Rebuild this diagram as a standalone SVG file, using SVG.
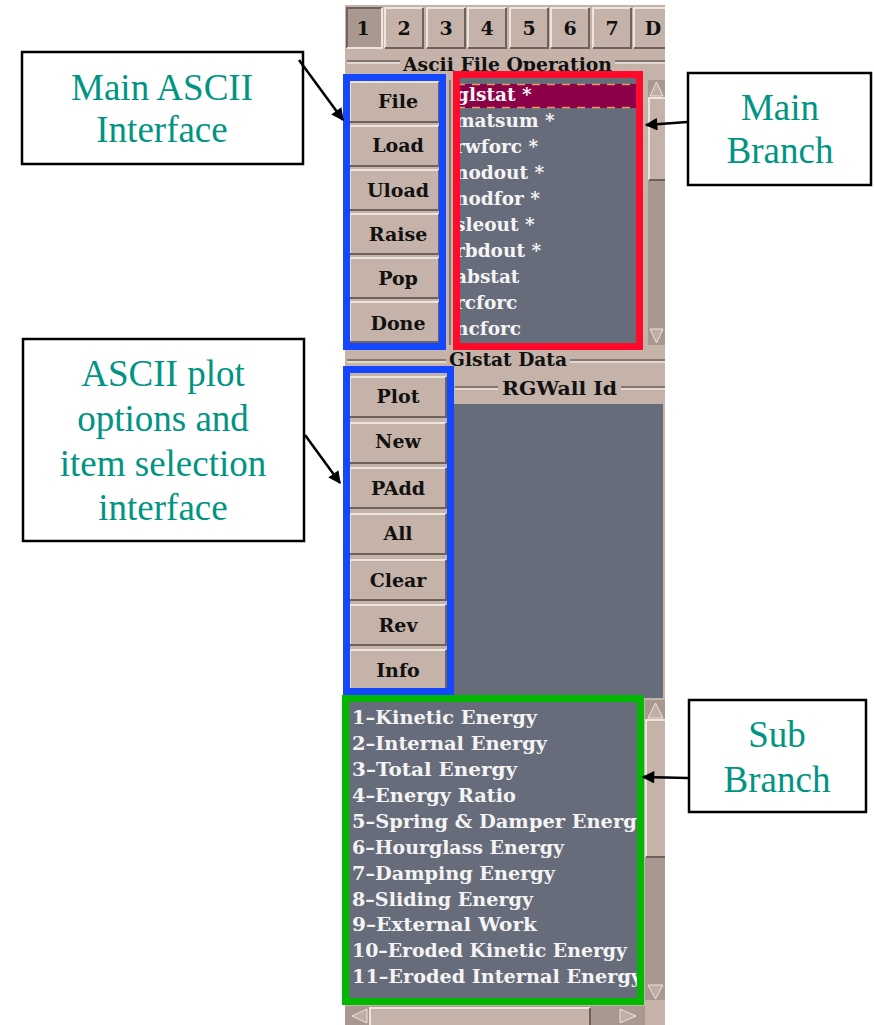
<svg xmlns="http://www.w3.org/2000/svg" width="874" height="1025" viewBox="0 0 874 1025">
<style>
.note{fill:#fff;stroke:#000;stroke-width:2.5}
.lbl{font-family:"Liberation Serif","Times New Roman",serif;font-size:37px;fill:#009483;text-anchor:middle}
.btn{fill:#c5b2a8}
.hi{stroke:#ece4de;stroke-width:2;fill:none}
.lo{stroke:#6f625c;stroke-width:2;fill:none}
.bt{font-family:"DejaVu Serif","Liberation Serif",serif;font-weight:bold;font-size:19px;fill:#111;text-anchor:middle}
.gt{font-family:"DejaVu Serif","Liberation Serif",serif;font-weight:bold;font-size:18px;fill:#111}
.lt{font-family:"DejaVu Serif","Liberation Serif",serif;font-weight:bold;font-size:18.5px;fill:#f4f4f4}
.lb{font-family:"DejaVu Serif","Liberation Serif",serif;font-weight:bold;font-size:18px;fill:#f4f4f4}
.dark{fill:#676c7b}
.trough{fill:#a9988f}
.arr{fill:#bfaea4;stroke:#ece4de;stroke-width:1}
.grv1{stroke:#6f625c;stroke-width:1.5}
.grv2{stroke:#ece4de;stroke-width:1.5}
.blue{fill:none;stroke:#1447ff;stroke-width:7}
.red{fill:none;stroke:#ff0a2a;stroke-width:7}
.green{fill:none;stroke:#00b800;stroke-width:7}
.conn{stroke:#000;stroke-width:2.5;fill:none;marker-end:url(#ah)}
</style>
<defs>
<marker id="ah" viewBox="0 0 10 10" refX="9" refY="5" markerWidth="6" markerHeight="5" orient="auto" markerUnits="strokeWidth">
<path d="M0,0 L10,5 L0,10 z" fill="#000"/>
</marker>
<clipPath id="clipTop"><rect x="459" y="78" width="177" height="265"/></clipPath>
<clipPath id="clipBot"><rect x="349" y="702" width="288" height="296"/></clipPath>
</defs>
<rect width="874" height="1025" fill="#fff"/>

<g id="panel">
<rect x="345" y="5" width="320" height="1020" fill="#c5b2a8"/>
<g id="tabs">
<rect x="347" y="8" width="35" height="40" fill="#a8988f"/>
<path d="M347,48 V8 H382" class="lo"/><path d="M382,8 V48 H347" class="hi"/>
<text x="363" y="35" class="bt">1</text>
<rect x="385" y="8" width="38" height="40" class="btn"/><path d="M385,48 V8 H423" class="hi"/><path d="M423,8 V48 H385" class="lo"/>
<text x="404" y="35" class="bt">2</text>
<rect x="427" y="8" width="38" height="40" class="btn"/><path d="M427,48 V8 H465" class="hi"/><path d="M465,8 V48 H427" class="lo"/>
<text x="446" y="35" class="bt">3</text>
<rect x="468" y="8" width="38" height="40" class="btn"/><path d="M468,48 V8 H506" class="hi"/><path d="M506,8 V48 H468" class="lo"/>
<text x="487" y="35" class="bt">4</text>
<rect x="510" y="8" width="38" height="40" class="btn"/><path d="M510,48 V8 H548" class="hi"/><path d="M548,8 V48 H510" class="lo"/>
<text x="529" y="35" class="bt">5</text>
<rect x="551" y="8" width="38" height="40" class="btn"/><path d="M551,48 V8 H589" class="hi"/><path d="M589,8 V48 H551" class="lo"/>
<text x="570" y="35" class="bt">6</text>
<rect x="593" y="8" width="38" height="40" class="btn"/><path d="M593,48 V8 H631" class="hi"/><path d="M631,8 V48 H593" class="lo"/>
<text x="612" y="35" class="bt">7</text>
<rect x="634" y="8" width="31" height="40" class="btn"/><path d="M634,48 V8 H665" class="hi"/><path d="M634,48 H665" class="lo"/>
<text x="653" y="35" class="bt">D</text>
</g>
<line x1="347" y1="61" x2="400" y2="61" class="grv1"/><line x1="347" y1="63" x2="400" y2="63" class="grv2"/>
<line x1="615" y1="61" x2="665" y2="61" class="grv1"/><line x1="615" y1="63" x2="665" y2="63" class="grv2"/>
<text x="403" y="71" class="gt" textLength="209" lengthAdjust="spacingAndGlyphs">Ascii File Operation</text>

<g id="mainButtons">
<rect x="350" y="82" width="89" height="40" class="btn"/><path d="M350,122 V82 H439" class="hi"/><path d="M439,82 V122 H350" class="lo"/>
<text x="398" y="108" class="bt">File</text>
<rect x="350" y="126" width="89" height="40" class="btn"/><path d="M350,166 V126 H439" class="hi"/><path d="M439,126 V166 H350" class="lo"/>
<text x="398" y="152" class="bt">Load</text>
<rect x="350" y="170" width="89" height="40" class="btn"/><path d="M350,210 V170 H439" class="hi"/><path d="M439,170 V210 H350" class="lo"/>
<text x="398" y="197" class="bt">Uload</text>
<rect x="350" y="214" width="89" height="40" class="btn"/><path d="M350,254 V214 H439" class="hi"/><path d="M439,214 V254 H350" class="lo"/>
<text x="398" y="241" class="bt">Raise</text>
<rect x="350" y="258" width="89" height="40" class="btn"/><path d="M350,298 V258 H439" class="hi"/><path d="M439,258 V298 H350" class="lo"/>
<text x="398" y="285" class="bt">Pop</text>
<rect x="350" y="302" width="89" height="40" class="btn"/><path d="M350,342 V302 H439" class="hi"/><path d="M439,302 V342 H350" class="lo"/>
<text x="398" y="330" class="bt">Done</text>
</g>
<line x1="450" y1="80" x2="450" y2="345" class="grv1"/>

<g id="mainList">
<rect x="453" y="74" width="190" height="274" class="dark"/>
<rect x="457" y="84" width="179" height="24" fill="#8b0048"/>
<line x1="457" y1="84.5" x2="636" y2="84.5" stroke="#e29a5a" stroke-width="1.5" stroke-dasharray="8,7"/>
<line x1="457" y1="107.5" x2="636" y2="107.5" stroke="#e29a5a" stroke-width="1.5" stroke-dasharray="8,7"/>
<g clip-path="url(#clipTop)">
<text x="456" y="101" class="lt">glstat *</text>
<text x="455" y="127" class="lt">matsum *</text>
<text x="455" y="153" class="lt">rwforc *</text>
<text x="455" y="179" class="lt">nodout *</text>
<text x="455" y="205" class="lt">nodfor *</text>
<text x="455" y="231" class="lt">sleout *</text>
<text x="455" y="257" class="lt">rbdout *</text>
<text x="455" y="283" class="lt">abstat</text>
<text x="455" y="309" class="lt">rcforc</text>
<text x="455" y="335" class="lt">ncforc</text>
</g>
</g>
<rect x="648" y="80" width="17" height="265" class="trough"/>
<rect x="649" y="98" width="16" height="82" class="btn"/><path d="M649,180 V98 H665" class="hi"/><path d="M649,180 H665" class="lo"/>
<path d="M650,96 L656.5,82 L663,96 Z" class="arr"/>
<path d="M650,329 L656.5,343 L663,329 Z" class="arr"/>

<line x1="347" y1="360" x2="446" y2="360" class="grv1"/><line x1="347" y1="362" x2="446" y2="362" class="grv2"/>
<line x1="570" y1="360" x2="665" y2="360" class="grv1"/><line x1="570" y1="362" x2="665" y2="362" class="grv2"/>
<text x="449" y="366" class="gt" textLength="118" lengthAdjust="spacingAndGlyphs">Glstat Data</text>
<line x1="455" y1="387" x2="498" y2="387" class="grv1"/><line x1="455" y1="389" x2="498" y2="389" class="grv2"/>
<line x1="621" y1="387" x2="665" y2="387" class="grv1"/><line x1="621" y1="389" x2="665" y2="389" class="grv2"/>
<text x="502" y="395" class="gt" textLength="115" lengthAdjust="spacingAndGlyphs">RGWall Id</text>
<rect x="454" y="404" width="209" height="294" class="dark"/>

<g id="plotButtons">
<rect x="350" y="377" width="96" height="40" class="btn"/><path d="M350,417 V377 H446" class="hi"/><path d="M446,377 V417 H350" class="lo"/>
<text x="398" y="403" class="bt">Plot</text>
<rect x="350" y="423" width="96" height="40" class="btn"/><path d="M350,463 V423 H446" class="hi"/><path d="M446,423 V463 H350" class="lo"/>
<text x="398" y="448" class="bt">New</text>
<rect x="350" y="468" width="96" height="40" class="btn"/><path d="M350,508 V468 H446" class="hi"/><path d="M446,468 V508 H350" class="lo"/>
<text x="398" y="495" class="bt">PAdd</text>
<rect x="350" y="514" width="96" height="40" class="btn"/><path d="M350,554 V514 H446" class="hi"/><path d="M446,514 V554 H350" class="lo"/>
<text x="398" y="540" class="bt">All</text>
<rect x="350" y="560" width="96" height="40" class="btn"/><path d="M350,600 V560 H446" class="hi"/><path d="M446,560 V600 H350" class="lo"/>
<text x="398" y="587" class="bt">Clear</text>
<rect x="350" y="605" width="96" height="40" class="btn"/><path d="M350,645 V605 H446" class="hi"/><path d="M446,605 V645 H350" class="lo"/>
<text x="398" y="632" class="bt">Rev</text>
<rect x="350" y="650" width="96" height="40" class="btn"/><path d="M350,690 V650 H446" class="hi"/><path d="M446,650 V690 H350" class="lo"/>
<text x="398" y="677" class="bt">Info</text>
</g>

<g id="subList">
<rect x="345" y="698" width="296" height="304" class="dark"/>
<g clip-path="url(#clipBot)">
<text x="352" y="724" class="lb" textLength="185" lengthAdjust="spacingAndGlyphs">1–Kinetic Energy</text>
<text x="352" y="750" class="lb" textLength="195" lengthAdjust="spacingAndGlyphs">2–Internal Energy</text>
<text x="352" y="776" class="lb" textLength="165" lengthAdjust="spacingAndGlyphs">3–Total Energy</text>
<text x="352" y="802" class="lb" textLength="164" lengthAdjust="spacingAndGlyphs">4–Energy Ratio</text>
<text x="352" y="828" class="lb" textLength="296" lengthAdjust="spacingAndGlyphs">5–Spring &amp; Damper Energy</text>
<text x="352" y="854" class="lb" textLength="212" lengthAdjust="spacingAndGlyphs">6–Hourglass Energy</text>
<text x="352" y="880" class="lb" textLength="203" lengthAdjust="spacingAndGlyphs">7–Damping Energy</text>
<text x="352" y="906" class="lb" textLength="181" lengthAdjust="spacingAndGlyphs">8–Sliding Energy</text>
<text x="352" y="931" class="lb" textLength="185" lengthAdjust="spacingAndGlyphs">9–External Work</text>
<text x="352" y="957" class="lb" textLength="275" lengthAdjust="spacingAndGlyphs">10–Eroded Kinetic Energy</text>
<text x="352" y="983" class="lb" textLength="290" lengthAdjust="spacingAndGlyphs">11–Eroded Internal Energy</text>
</g>
</g>
<rect x="645" y="700" width="20" height="300" class="trough"/>
<rect x="646" y="720" width="19" height="137" class="btn"/><path d="M646,857 V720 H665" class="hi"/><path d="M646,857 H665" class="lo"/>
<path d="M648,718 L655.5,703 L663,718 Z" class="arr"/>
<path d="M648,985 L655.5,999 L663,985 Z" class="arr"/>
<rect x="345" y="1006" width="300" height="19" class="trough"/>
<rect x="370" y="1008" width="220" height="17" class="btn"/><path d="M370,1025 V1008 H590" class="hi"/><path d="M590,1008 V1025" class="lo"/>
<path d="M367,1009 L352,1016 L367,1023 Z" class="arr"/>
<path d="M620,1009 L636,1016 L620,1023 Z" class="arr"/>
</g>

<g id="highlights">
<rect x="346.5" y="77.5" width="96" height="269" class="blue"/>
<rect x="456.5" y="74.5" width="183" height="272" class="red"/>
<rect x="346.5" y="369.5" width="104" height="322" class="blue"/>
<rect x="345.5" y="698.5" width="295" height="303" class="green"/>
</g>

<g id="noteMainAscii">
<rect x="22" y="52" width="281" height="112" class="note"/>
<text x="162" y="100" class="lbl">Main ASCII</text>
<text x="162" y="142" class="lbl">Interface</text>
</g>
<g id="notePlotOptions">
<rect x="23" y="339" width="281" height="202" class="note"/>
<text x="163" y="386" class="lbl">ASCII plot</text>
<text x="163" y="431" class="lbl">options and</text>
<text x="163" y="476" class="lbl">item selection</text>
<text x="163" y="520" class="lbl">interface</text>
</g>
<g id="noteMainBranch">
<rect x="688" y="73" width="183" height="112" class="note"/>
<text x="780" y="120" class="lbl">Main</text>
<text x="780" y="163" class="lbl">Branch</text>
</g>
<g id="noteSubBranch">
<rect x="689" y="700" width="177" height="112" class="note"/>
<text x="777" y="747" class="lbl">Sub</text>
<text x="777" y="792" class="lbl">Branch</text>
</g>

<g id="connectors">
<line x1="299" y1="60" x2="343" y2="120" class="conn"/>
<line x1="305" y1="435" x2="340" y2="483" class="conn"/>
<line x1="687" y1="122" x2="646" y2="125" class="conn"/>
<line x1="688" y1="778" x2="643" y2="777" class="conn"/>
</g>
</svg>
